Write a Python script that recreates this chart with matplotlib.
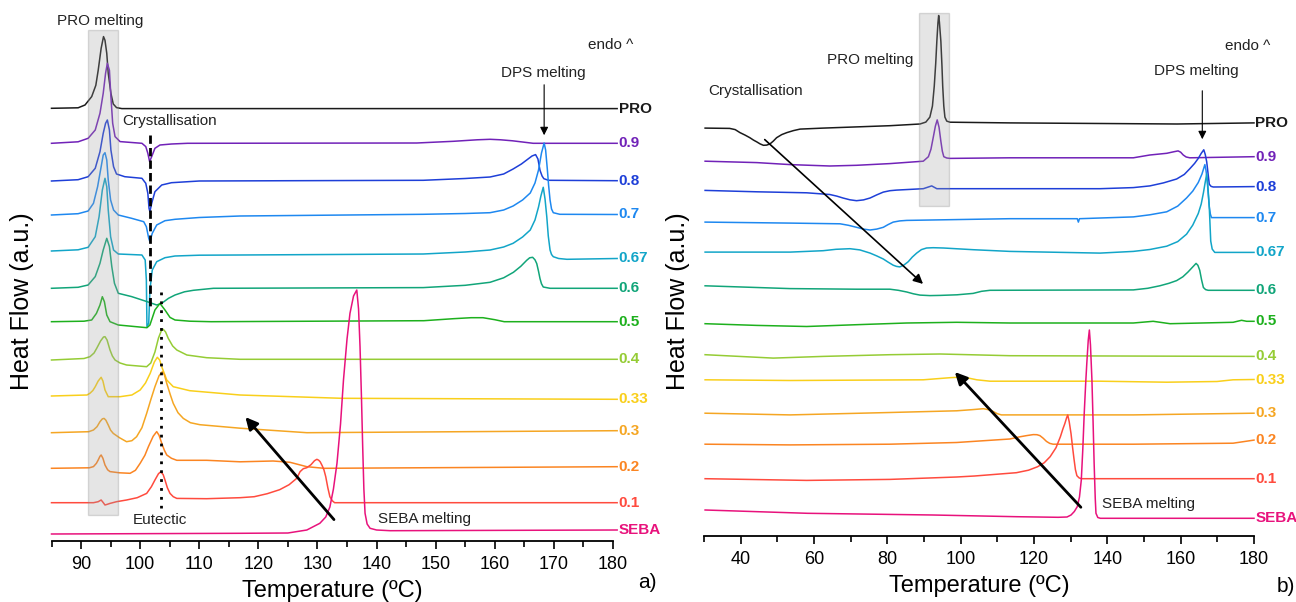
import matplotlib
matplotlib.use("Agg")
import matplotlib.pyplot as plt
from matplotlib.patches import Rectangle
from matplotlib.ticker import MultipleLocator

plt.rcParams['font.family'] = ['Liberation Sans', 'DejaVu Sans']

labels = ['PRO', '0.9', '0.8', '0.7', '0.67', '0.6', '0.5', '0.4', '0.33', '0.3', '0.2', '0.1', 'SEBA']
colors = ['#1a1a1a', '#7122b8', '#1e3fd8', '#1e88f0', '#12a5c8', '#11a579', '#1db01d',
          '#95cc35', '#f9cf1b', '#f5a623', '#fb8522', '#ff4b3e', '#e8127c']

# vertical stacking of the curves (a.u.)
offsets_a = [432.7, 397.7, 360, 326, 290, 252.7, 219.3, 181, 145, 108.3, 72.7, 38.3, 7]
offsets_b = [407.9, 374.8, 345.6, 313.9, 283.9, 250.2, 212.3, 181.3, 156.2, 122.8, 91.8, 57.3, 26]

# ---- a) (temperature, heat flow relative to baseline)
a_pro = [(85, 0), (89.5, 0.5), (90.67, 3.3), (91.8, 11.7), (92.5, 23), (92.9, 38), (93.4, 60), (93.8, 71.7),
         (94.05, 68), (94.35, 55), (94.6, 35), (95.05, 15), (95.45, 4.3), (96, 0.7), (96.9, -0.3), (180.7, -0.3)]
a_09 = [(85, 0), (89.5, 1.5), (91.2, 5), (92.4, 13.3), (93.2, 30), (93.75, 50), (94.15, 70), (94.45, 80),
        (94.8, 73), (95.05, 46.7), (95.35, 20), (95.75, 6.7), (96.6, 1.7), (100.3, 0), (100.95, -3.3),
        (101.3, -10), (101.6, -18.3), (101.95, -13.3), (102.5, -5), (103.35, -1.7), (105.3, -0.7), (108, 0),
        (146.8, 0.3), (153, 2), (157, 3.5), (159.2, 4), (161, 3.5), (163, 2.5), (166.5, 0), (180.7, 0)]
a_08 = [(85, 0), (89.5, 1.3), (91.2, 4.3), (92.4, 12.7), (93.2, 29.3), (93.75, 47.7), (94.15, 57.7),
        (94.45, 61), (94.8, 51), (95.05, 31), (95.5, 14.3), (96, 7), (97.4, 4.3), (100.3, 2.7), (100.95, -2.3),
        (101.3, -12.3), (101.5, -27.3), (101.65, -30.7), (101.95, -22.3), (102.5, -10.7), (103.65, -4),
        (105.3, -1.7), (110, 0), (147.9, 0.7), (155, 2.5), (159.2, 4), (161.5, 7), (163.1, 12), (164.5, 17),
        (165.4, 21), (166.3, 25), (166.9, 26.4), (167.3, 22), (167.65, 10.7), (168, 5), (168.3, 2.3),
        (169.1, 0.7), (180.7, 0.3)]
a_07 = [(85, 0), (89.5, 1.3), (91.2, 4), (92.1, 11.7), (92.8, 28.3), (93.4, 48.3), (93.75, 60), (94.05, 62.3),
        (94.35, 55), (94.6, 35), (95, 15), (95.5, 5), (96.3, 0), (98.55, -3.3), (100.6, -6.7), (101.05, -11.7),
        (101.45, -23.3), (101.65, -26.7), (102.05, -18.3), (102.8, -10), (104.2, -5.7), (105.9, -4.3),
        (110, -2.5), (116.9, -1), (147.9, 0.7), (155, 1.5), (159.2, 2.3), (161.5, 5), (163.1, 9), (164.7, 15),
        (166, 22), (166.8, 32), (167.4, 45), (167.9, 62), (168.35, 72), (168.6, 65), (168.9, 45), (169.1, 30),
        (169.35, 15), (169.6, 6), (169.9, 2.3), (171, 0.7), (180.7, 0.5)]
a_067 = [(85, 0), (89.5, 1.2), (91.2, 3.7), (92.4, 14.3), (93.05, 34.3), (93.6, 61), (94.05, 72.7),
         (94.35, 64.3), (94.6, 41), (95, 14.3), (95.5, 1), (96.3, -3), (100.3, -4), (100.85, -9), (101.05, -29),
         (101.15, -75.7), (101.45, -72.3), (101.65, -39), (102.05, -19), (102.8, -10.7), (104.2, -6.7),
         (105.9, -5), (110, -4.2), (116.9, -4), (147.9, -3), (155, -1), (159.2, 1), (161.5, 4), (163.1, 7.7),
         (164.7, 14), (166, 21), (166.8, 31), (167.4, 44), (167.8, 55), (168.2, 63.7), (168.5, 52),
         (168.8, 34), (169.05, 15), (169.35, 1), (169.6, -3.5), (169.9, -5.7), (170.8, -7.5), (172.2, -8.3),
         (180.7, -7.5)]
a_06 = [(85, 0), (89.5, 1), (91.2, 3.3), (92.4, 11.7), (93.2, 25), (93.75, 38.3), (94.35, 50), (94.8, 41.7),
        (95.2, 21.7), (95.65, 5), (96.3, -5), (98.55, -8.3), (101.15, -13.3), (102.8, -16.7), (103.65, -15),
        (104.8, -10), (105.9, -6.7), (107.5, -3.5), (109, -2), (112.4, 0), (147.9, 0.7), (155, 3),
        (159.2, 6), (161.5, 10.5), (163.15, 16), (164.4, 22), (165.4, 28), (165.9, 30.5), (166.4, 31),
        (166.8, 28.5), (167.1, 24.7), (167.4, 17), (167.65, 9.7), (167.9, 4.5), (168.2, 1.3), (169.35, 0),
        (180.7, 0)]
a_05 = [(85, 0), (90.5, 0.5), (91.8, 1.7), (92.6, 8.3), (93.2, 16.7), (93.6, 25), (93.95, 20), (94.35, 6.7),
        (94.9, 0), (96.3, -3.3), (101.15, -6), (101.65, -3.3), (102.5, 11.7), (103.35, 18.3), (104.2, 11.7),
        (105.05, 4.3), (105.9, 1.7), (108.4, 0.5), (112, 0), (148, 1), (153, 3), (156, 4), (158, 4),
        (160, 2), (161.6, 0), (180.7, 0)]
a_04 = [(85, 0), (90.5, 1.5), (91.5, 3.3), (92.2, 7), (92.65, 11.7), (93.3, 19), (93.8, 23), (94.05, 23.3),
        (94.4, 20), (94.9, 10), (95.3, 4), (95.75, 0), (96.6, -3), (97.7, -5), (101.1, -6.7), (101.8, -3),
        (102.5, 8), (103.1, 22), (103.6, 29.5), (103.9, 30.7), (104.3, 28), (104.75, 21.7), (105.5, 14),
        (106.2, 10), (107.9, 5), (111.25, 2.3), (116.9, 0.7), (180.7, 0.7)]
a_033 = [(85, 0), (91, 1), (91.5, 2.7), (92, 5.5), (92.4, 9.3), (92.9, 15), (93.4, 18.7), (93.7, 15),
         (94.05, 6), (94.6, -0.7), (96.6, -0.7), (98.6, 1), (100, 6), (100.9, 13), (101.7, 22.7), (102.4, 34),
         (102.9, 38.7), (103.3, 36), (103.65, 29.3), (104.5, 16), (105.6, 9.3), (108.4, 5.3), (116.9, 1),
         (134.1, -2.3), (180.7, -3.3)]
a_03 = [(85, 0), (91.3, 1), (92.1, 2.7), (92.7, 6), (93.2, 11), (93.6, 13.8), (93.9, 14.3), (94.2, 12.5),
        (94.6, 7.7), (95, 2.5), (95.45, -0.7), (96.5, -5), (97.7, -9), (98.6, -8), (99.4, -4), (100.3, 5),
        (101.1, 19.3), (101.8, 33), (102.5, 46), (103.2, 57), (103.75, 61), (104.1, 58), (104.5, 49.3),
        (105.1, 38), (105.6, 29.3), (106.4, 20), (107.3, 14.3), (108.5, 10), (110.1, 8), (116.9, 4.5),
        (128.2, 0), (180.7, 2)]
a_02 = [(85, 0), (91.4, 0.5), (92.1, 1.7), (92.6, 5), (92.9, 8.3), (93.2, 12), (93.4, 13.3), (93.7, 10),
        (94.05, 3.3), (94.5, -1.5), (94.9, -3.3), (96.5, -4.5), (98.3, -5), (99.2, -2), (100, 5), (100.8, 13),
        (101.4, 21.7), (102.2, 32), (102.8, 36.7), (103.2, 33), (103.65, 25), (104.1, 18), (104.5, 13.3),
        (105.3, 10), (106.2, 8), (111.25, 8), (116.9, 6.5), (122.5, 7.3), (125.35, 6), (128.2, 1.6),
        (131.1, 0), (180.7, 1.6)]
a_01 = [(85, 0), (92.1, 0), (92.9, 1), (93.4, 2.7), (93.7, 0.5), (94.05, -2.3), (94.5, -1.5), (94.9, -0.7),
        (96, 1), (97.7, 2.7), (99.5, 5), (101.1, 9.3), (101.9, 16), (102.5, 22.7), (103.1, 29), (103.5, 31),
        (103.9, 28), (104.2, 22.7), (104.6, 15), (105.05, 9.3), (105.6, 6), (106.2, 4.3), (111.25, 4),
        (116.9, 5), (119.3, 6), (121.5, 9), (123.6, 13), (125.2, 18), (126.5, 24.4), (127.05, 31),
        (127.6, 34), (128.2, 35), (128.9, 38), (129.5, 42), (129.9, 43.4), (130.2, 42.5), (130.45, 41),
        (130.8, 37), (131.1, 32.7), (131.4, 26), (131.75, 15), (132.1, 6), (132.5, 2), (132.9, 0), (180.7, 0)]
a_seba = [(85, 0), (116.9, 0.7), (125, 1), (128.2, 4), (130.4, 10.7), (131.4, 17), (132.1, 27), (132.7, 45),
          (133.3, 70.7), (133.9, 110), (134.4, 154), (135, 195), (135.5, 220.7), (136.1, 238), (136.65, 244),
          (136.95, 225), (137.2, 187.3), (137.45, 135), (137.65, 87.3), (137.85, 45), (138.05, 20.7),
          (138.4, 10), (138.9, 5.7), (140, 4), (142.3, 3.3), (180.7, 4)]

# ---- b)
b_pro = [(30.3, 0), (37, -0.3), (38.5, -1.5), (39.8, -4.5), (41.2, -7), (42.5, -9.6), (43.5, -12),
         (44.4, -13.8), (45.3, -15.8), (46.2, -17.2), (47.1, -17), (48, -15.8), (48.9, -13), (49.8, -9.6),
         (51.2, -6.5), (52.6, -4.5), (54.4, -2.5), (56.2, -1), (62.5, 0), (80.7, 2.4), (88.9, 4.1),
         (90.5, 6), (91.6, 11), (92.3, 22), (92.8, 42), (93.2, 65), (93.5, 86.8), (93.8, 105), (94, 112.6),
         (94.2, 106), (94.6, 86.8), (94.9, 62), (95.1, 42), (95.4, 22), (95.7, 11), (96.2, 7), (97.1, 5.9),
         (113.4, 5.2), (159, 4.1), (180, 5.2)]
b_09 = [(30.3, 0), (44.4, -1.4), (53.5, -3.4), (64.3, -4.8), (71.6, -4.1), (80.7, -2.4), (89.8, 0),
        (91.2, 4.5), (91.9, 12), (92.5, 23.4), (93.1, 35), (93.6, 41.3), (94.1, 34), (94.6, 19.9), (95, 10),
        (95.4, 4.5), (96.2, 3.2), (97.1, 2.8), (113.4, 3.4), (147.1, 3.4), (151.6, 6.2), (156.2, 7.9),
        (158.2, 9.5), (159.3, 10.3), (160, 9), (160.7, 6.2), (161.5, 4.2), (162.5, 3.4), (180, 4.5)]
b_08 = [(30.3, 0), (44.4, -1.4), (58, -2.4), (64.3, -4.1), (66.2, -5.7), (67.9, -7.6), (69.8, -9.4),
        (71.6, -10.3), (73.5, -9.5), (75.3, -7.6), (77.1, -4.5), (78.9, -1.7), (80.7, -0.3), (82.5, 0.3),
        (89.8, 1.7), (92.1, 4.5), (93.5, 1.7), (138, 1.7), (147.1, 2.8), (151.6, 4.5), (155.3, 7.5),
        (158.9, 11.4), (161, 16), (162.5, 21.7), (163.8, 27), (164.8, 32), (165.6, 37), (166.3, 40.6),
        (166.7, 36), (167.1, 28.6), (167.5, 16), (167.8, 6.2), (168.3, 4), (168.9, 3.4), (180, 3.8)]
b_07 = [(30.3, 0), (53.5, -1), (67.1, -1.7), (69.4, -3.2), (71.6, -5.2), (73.5, -7), (75.3, -7.9),
        (77.1, -7), (78.9, -5.2), (80.2, -2.5), (81.6, 0), (83.4, 1.2), (85.3, 1.7), (113.4, 3.4),
        (131.8, 3.4), (132.1, 0), (132.4, 3.4), (147.1, 5.2), (151.6, 7.3), (156.2, 10.3), (159.2, 16),
        (161.6, 24.1), (163.3, 31), (164.8, 39.6), (165.8, 48), (166.6, 57.5), (166.9, 52), (167.2, 43),
        (167.5, 29), (167.8, 15.5), (168.1, 8), (168.4, 4.5), (180, 4.5)]
b_067 = [(30.3, 0), (53.5, 0), (62.5, 1.4), (66, 2.8), (69.8, 3.4), (72.5, 2.2), (75.3, -1), (77.1, -3.8),
         (78.9, -6.9), (80.2, -10), (81.6, -13.1), (82.5, -14.3), (83.4, -14.8), (84.5, -13), (85.7, -9.6),
         (86.8, -5), (88, -1), (89.3, 2.5), (90.7, 4.1), (92.5, 4.4), (95.3, 4.1), (103.4, 2.4), (113.4, 0.7),
         (138, -1), (147.1, 0.7), (151.6, 2.6), (156.2, 5.9), (159.2, 10.5), (161.6, 17.9), (163.3, 27),
         (164.8, 38.6), (165.6, 48), (166.2, 59.2), (166.7, 70), (167.1, 78.2), (167.4, 67), (167.8, 45.5),
         (168, 28), (168.2, 11), (168.6, 3), (169.3, -0.3), (180, -0.3)]
b_06 = [(30.3, 0), (53.5, -2.8), (71.6, -3.4), (80.7, -3.4), (83, -4.5), (85.3, -6.2), (87.1, -8),
        (88.9, -9.3), (91.6, -9.8), (94.4, -9.6), (99, -9), (103.4, -7.6), (105.7, -5.5), (108, -4.5),
        (147.1, -4.1), (151, -2.5), (154.3, 0), (156.8, 2.5), (158.9, 5.2), (160.6, 9), (162, 13.8),
        (163.2, 18.5), (164.2, 22.4), (164.7, 20.5), (165.2, 15.5), (165.7, 6), (166.2, -1.7), (166.8, -3.8),
        (167.5, -4.5), (180, -4.5)]
b_05 = [(30.3, 0), (44.4, -1.7), (58, -2.8), (71.6, -1), (85.3, 0.7), (98.9, 1.4), (113.4, 0.7), (147.1, 0.7),
        (152.5, 2.4), (157.1, 0), (174.3, 1.4), (176.6, 3.4), (178, 2.4), (180, 2.4)]
b_04 = [(30.3, 0), (48.9, -3.4), (62.5, -1.7), (80.7, 0), (94.4, 0.7), (113.4, -1), (180, -1.7)]
b_033 = [(30.3, 0), (53.5, -0.7), (89.8, 0), (97.1, 2.1), (100.7, 2.8), (104.4, 0), (108, -1.4), (138, -1.4),
         (156.2, -2.4), (169.9, -1.7), (174.3, 0), (180, 0.3)]
b_03 = [(30.3, 0), (53.5, -1.7), (80.7, 0.7), (98.9, 2.4), (103, 3.5), (106.2, 4.5), (107.6, 3.5),
        (108.9, 1.7), (110, -0.5), (111.1, -1.7), (147.1, -1.7), (180, 0)]
b_02 = [(30.3, 0), (53.5, -0.7), (80.7, 0), (98.9, 1.7), (113.4, 5.2), (116, 7.3), (118, 8.6), (119.8, 9.6),
        (120.8, 9.5), (121.6, 8.6), (122.5, 6), (123.4, 2.8), (124.3, 0.8), (125.2, 0), (147.1, 0),
        (174.3, 1), (180, 4.1)]
b_01 = [(30.3, 0), (58, -1.7), (80.7, -0.7), (98.9, 1.7), (103.8, 2.7), (115.2, 6), (118.5, 8.5), (121, 12),
        (122.8, 16), (124.4, 22), (126, 31), (127.2, 42), (127.9, 50), (128.4, 55), (128.9, 61), (129.2, 63.7),
        (129.6, 57), (130.1, 45), (130.5, 32), (130.9, 20), (131.3, 9), (131.7, 3), (132.3, 0.8), (132.9, 0),
        (180, 0)]
b_seba = [(30.3, 0), (58.2, -3.3), (92.4, -5), (115.2, -6.7), (126.6, -7.3), (129, -7), (130.1, -5),
          (131, -1.5), (131.8, 3.3), (132.4, 13), (132.9, 30), (133.3, 60), (133.7, 96.7), (134.1, 127),
          (134.4, 146.7), (134.8, 170), (135.1, 180), (135.4, 165), (135.8, 130), (136.1, 90), (136.4, 46.7),
          (136.7, 12), (136.9, -3.3), (137.4, -7.5), (138.1, -8.3), (180, -8.3)]

curves_a = [a_pro, a_09, a_08, a_07, a_067, a_06, a_05, a_04, a_033, a_03, a_02, a_01, a_seba]
curves_b = [b_pro, b_09, b_08, b_07, b_067, b_06, b_05, b_04, b_033, b_03, b_02, b_01, b_seba]

fig = plt.figure(figsize=(12.96, 6.02), dpi=100)
ax_a = fig.add_axes([51.5 / 1296, 61 / 602, 561.5 / 1296, 541 / 602])
ax_b = fig.add_axes([704 / 1296, 66 / 602, 550 / 1296, 536 / 602])


def draw(ax, curves, offsets):
    for pts, off, c, lab in zip(curves, offsets, colors, labels):
        T = [p[0] for p in pts]
        hf = [p[1] + off for p in pts]
        ax.plot(T, hf, color=c, lw=1.1, clip_on=False, zorder=3, solid_joinstyle='round')
        ax.annotate(lab, (T[-1], hf[-1]), xytext=(1, 0), textcoords='offset points', color=c,
                    fontsize=11, fontweight='bold', ha='left', va='center', annotation_clip=False)


def note(ax, x, y, s, ha='center'):
    ax.text(x, y, s, fontsize=11, color='#222222', ha=ha, va='center', zorder=6)


draw(ax_a, curves_a, offsets_a)
draw(ax_b, curves_b, offsets_b)

# shaded PRO melting regions
ax_a.add_patch(Rectangle((91.1, 26), 5.2, 485, facecolor='#a0a0a0', alpha=0.27,
                         edgecolor='#808080', lw=1, zorder=4))
ax_b.add_patch(Rectangle((88.6, 330), 8.3, 193, facecolor='#a0a0a0', alpha=0.27,
                         edgecolor='#808080', lw=1, zorder=4))

# a) annotations
ax_a.plot([101.7, 101.7], [406, 234], color='k', lw=2, ls=(0, (3, 1.5)), zorder=5)
ax_a.plot([103.5, 103.5], [249, 33], color='k', lw=2, ls=(0, (1, 2.2)), zorder=5)
ax_a.annotate('', xy=(117.5, 126), xytext=(133.1, 19.3),
              arrowprops=dict(arrowstyle='-|>', color='k', lw=2, mutation_scale=18), zorder=5)
ax_a.annotate('', xy=(168.35, 403), xytext=(168.35, 459),
              arrowprops=dict(arrowstyle='-|>', color='k', lw=0.8, mutation_scale=12), zorder=5)
note(ax_a, 93.2, 519.5, 'PRO melting')
note(ax_a, 97.05, 419.5, 'Crystallisation', ha='left')
note(ax_a, 98.75, 21, 'Eutectic', ha='left')
note(ax_a, 140.25, 21.5, 'SEBA melting', ha='left')
note(ax_a, 168.2, 468, 'DPS melting')
note(ax_a, 179.6, 496, 'endo ^')

# b) annotations
ax_b.annotate('', xy=(90.3, 250.2), xytext=(46, 398.3),
              arrowprops=dict(arrowstyle='-|>', color='k', lw=1.2, mutation_scale=14), zorder=5)
ax_b.annotate('', xy=(97.9, 166), xytext=(133.3, 26.7),
              arrowprops=dict(arrowstyle='-|>', color='k', lw=2, mutation_scale=18), zorder=5)
ax_b.annotate('', xy=(165.9, 394), xytext=(165.9, 448),
              arrowprops=dict(arrowstyle='-|>', color='k', lw=0.8, mutation_scale=12), zorder=5)
note(ax_b, 75.2, 475.7, 'PRO melting')
note(ax_b, 31.1, 444.7, 'Crystallisation', ha='left')
note(ax_b, 138.5, 32.2, 'SEBA melting', ha='left')
note(ax_b, 164.4, 465.4, 'DPS melting')
note(ax_b, 178.3, 489.5, 'endo ^')

ax_a.set_xlim(85, 180)
ax_a.set_ylim(0, 541)
ax_a.set_xticks(range(90, 181, 10))
ax_a.xaxis.set_minor_locator(MultipleLocator(5))

ax_b.set_xlim(30, 180)
ax_b.set_ylim(0, 536)
ax_b.set_xticks(range(40, 181, 20))
ax_b.xaxis.set_minor_locator(MultipleLocator(10))

for ax in (ax_a, ax_b):
    for s in ('left', 'right', 'top'):
        ax.spines[s].set_visible(False)
    ax.spines['bottom'].set_linewidth(1.3)
    ax.set_yticks([])
    ax.patch.set_visible(False)
    ax.tick_params(axis='x', which='major', direction='out', length=6, width=1.2, labelsize=13, pad=5)
    ax.tick_params(axis='x', which='minor', direction='out', length=4, width=1.2)
    ax.set_xlabel('Temperature (ºC)', fontsize=17, labelpad=5)

fig.text(22 / 1296, 0.5, 'Heat Flow (a.u.)', rotation=90, fontsize=18, ha='center', va='center')
fig.text(678 / 1296, 0.5, 'Heat Flow (a.u.)', rotation=90, fontsize=18, ha='center', va='center')
fig.text(638 / 1296, 1 - 582 / 602, 'a)', fontsize=15, ha='left', va='center')
fig.text(1277 / 1296, 1 - 586 / 602, 'b)', fontsize=15, ha='left', va='center')

fig.savefig('out.png', dpi=100)
